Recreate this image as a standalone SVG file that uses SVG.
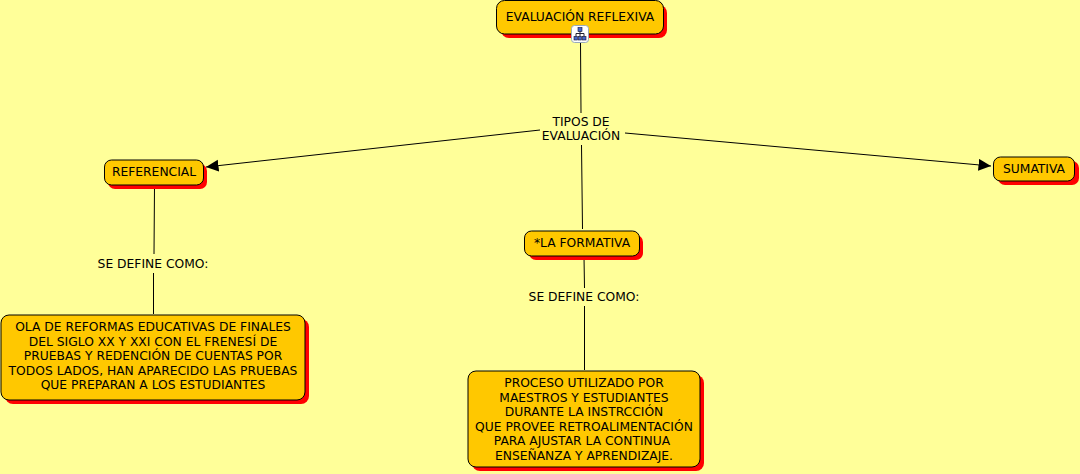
<svg xmlns="http://www.w3.org/2000/svg" width="1080" height="474" viewBox="0 0 1080 474">
<style>
.s{fill:#ff0000}
.b{fill:#ffc800;stroke:#000;stroke-width:1}
text{font-family:"DejaVu Sans",Verdana,sans-serif;font-size:12.3px;fill:#000;text-anchor:middle}
.c{fill:none;stroke:#000;stroke-width:1}
</style>
<defs>
<marker id="a" markerUnits="userSpaceOnUse" markerWidth="14" markerHeight="13" refX="12.500" refY="6" orient="auto"><path d="M0 0L12.500 6L0 12Z" fill="#000"/></marker>
</defs>
<rect width="1080" height="474" fill="#ffff99"/>
<g id="connectors">
<path class="c" d="M580.500 43L581 113"/>
<path class="c" d="M581.500 145L582.500 229"/>
<path class="c" d="M540 130L206 167" marker-end="url(#a)"/>
<path class="c" d="M625 133L991 166" marker-end="url(#a)"/>
<path class="c" d="M154.500 186L154 254"/>
<path class="c" d="M153.500 273L153.500 314"/>
<path class="c" d="M584 257L584.500 288"/>
<path class="c" d="M584.500 306L584.500 370"/>
</g>
<g id="n-evaluacion">
<rect class="s" x="501" y="5" width="166" height="33" rx="8"/>
<rect class="b" x="496.500" y="0.500" width="167" height="33.500" rx="8"/>
<text x="580" y="21">EVALUACIÓN REFLEXIVA</text>
<g>
<rect x="571.500" y="25.500" width="17" height="17" rx="3" fill="#fff" stroke="#9ab" stroke-width="1"/>
<path d="M580 29V37M576 37V33.500H584V37" fill="none" stroke="#223" stroke-width="1"/>
<rect x="578" y="27.500" width="4" height="4" fill="#46c" stroke="#113" stroke-width=".6"/>
<rect x="574" y="36.500" width="3.500" height="3.500" fill="#46c" stroke="#113" stroke-width=".6"/>
<rect x="578.500" y="36.500" width="3" height="3.500" fill="#46c" stroke="#113" stroke-width=".6"/>
<rect x="582.500" y="36.500" width="3.500" height="3.500" fill="#46c" stroke="#113" stroke-width=".6"/>
</g>
</g>
<g id="l-tipos">
<text x="581" y="126">TIPOS DE</text>
<text x="581" y="140">EVALUACIÓN</text>
</g>
<g id="n-referencial">
<rect class="s" x="108" y="164" width="99" height="25" rx="7"/>
<rect class="b" x="104.500" y="160" width="99" height="25" rx="7"/>
<text x="154" y="176">REFERENCIAL</text>
</g>
<g id="n-sumativa">
<rect class="s" x="998" y="161" width="81" height="24" rx="7"/>
<rect class="b" x="993.500" y="157" width="81" height="24" rx="7"/>
<text x="1034" y="173">SUMATIVA</text>
</g>
<g id="n-formativa">
<rect class="s" x="529" y="235" width="114" height="25" rx="7"/>
<rect class="b" x="524.500" y="231" width="115" height="25" rx="7"/>
<text x="582" y="247">*LA FORMATIVA</text>
</g>
<g id="l-def1"><text x="153" y="268">SE DEFINE COMO:</text></g>
<g id="l-def2"><text x="584" y="301">SE DEFINE COMO:</text></g>
<g id="n-ola">
<rect class="s" x="5" y="319" width="304" height="85" rx="8"/>
<rect class="b" x="1" y="315" width="304" height="85" rx="8"/>
<text x="153" y="331">OLA DE REFORMAS EDUCATIVAS DE FINALES</text>
<text x="153" y="346">DEL SIGLO XX Y XXI CON EL FRENESÍ DE</text>
<text x="153" y="360">PRUEBAS Y REDENCIÓN DE CUENTAS POR</text>
<text x="153" y="375">TODOS LADOS, HAN APARECIDO LAS PRUEBAS</text>
<text x="153" y="389">QUE PREPARAN A LOS ESTUDIANTES</text>
</g>
<g id="n-proceso">
<rect class="s" x="472" y="375" width="232" height="96" rx="8"/>
<rect class="b" x="468" y="371" width="232" height="96" rx="8"/>
<text x="584" y="387">PROCESO UTILIZADO POR</text>
<text x="584" y="402">MAESTROS Y ESTUDIANTES</text>
<text x="584" y="416">DURANTE LA INSTRCCIÓN</text>
<text x="584" y="431">QUE PROVEE RETROALIMENTACIÓN</text>
<text x="582" y="445">PARA AJUSTAR LA CONTINUA </text>
<text x="584" y="460">ENSEÑANZA Y APRENDIZAJE.</text>
</g>
</svg>
